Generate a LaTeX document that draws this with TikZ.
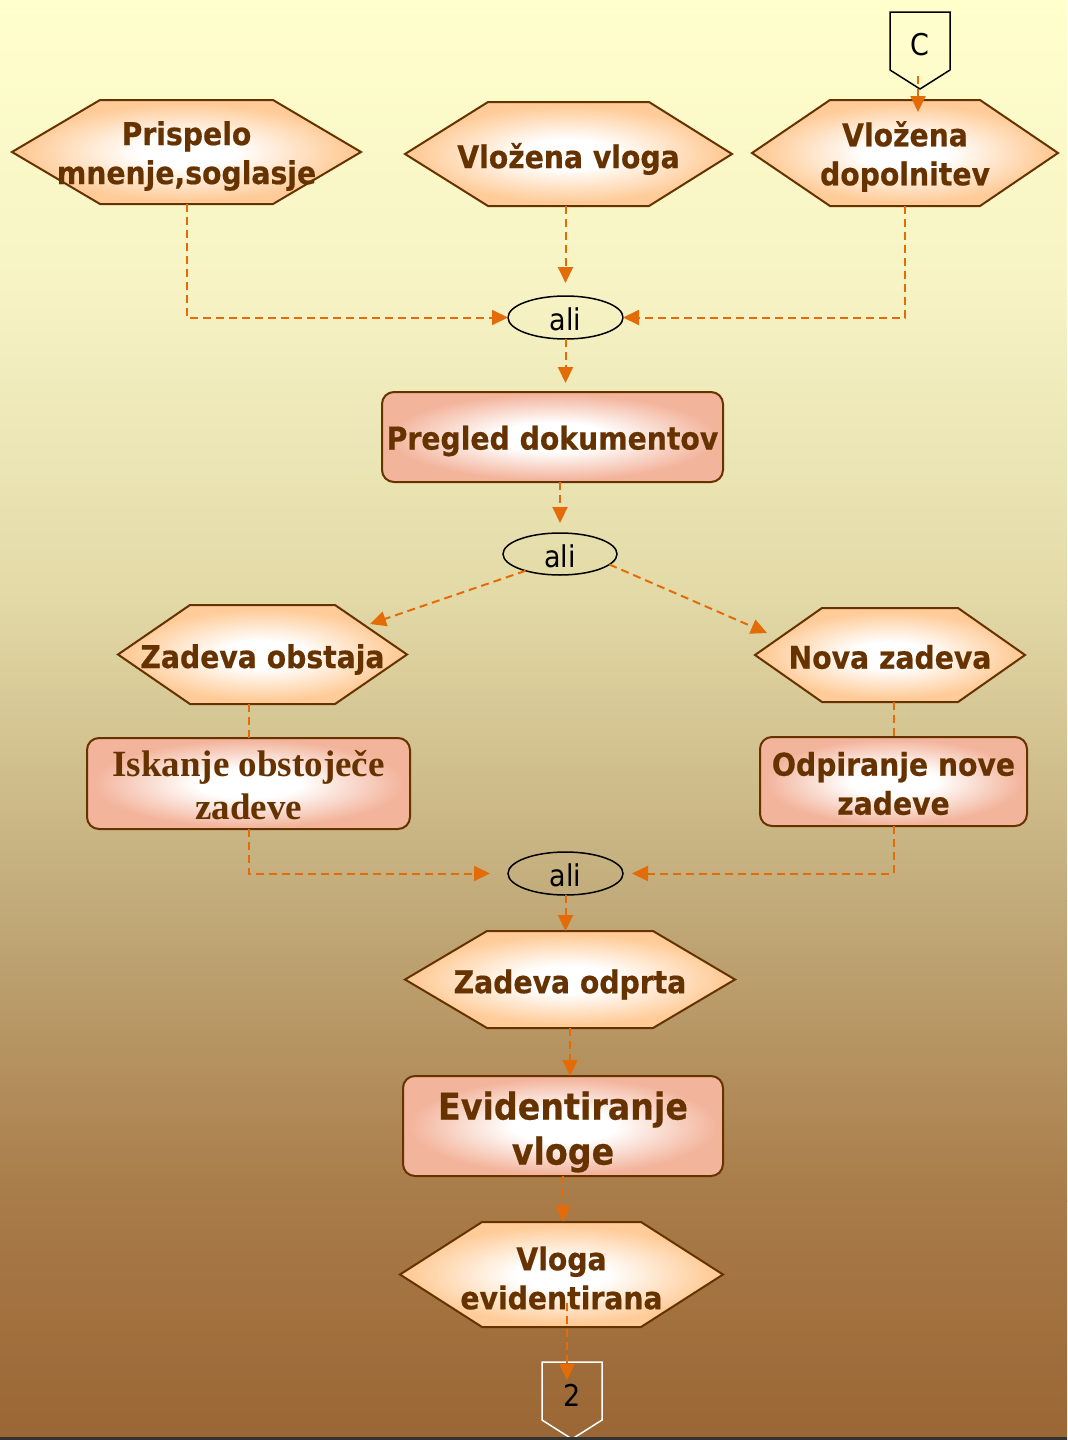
\documentclass[tikz,border=0pt]{standalone}
\usepackage{fontspec}
\usetikzlibrary{arrows.meta,calc,shapes.geometric}
\setmainfont{DejaVu Sans}
\newfontfamily\boxfont{DejaVu Sans}[FakeStretch=0.9, BoldFeatures={FakeBold=0.5}]
\newfontfamily\boxserif{Liberation Serif}

\definecolor{ink}{HTML}{663300}
\definecolor{arroworange}{HTML}{E36C09}
\definecolor{peach}{HTML}{FFCC99}
\definecolor{salmon}{HTML}{F3B49C}
\definecolor{bgA}{HTML}{FFFFCC}
\definecolor{bgB}{HTML}{F6F2C4}
\definecolor{bgC}{HTML}{E2D9A6}
\definecolor{bgD}{HTML}{C2AB7A}
\definecolor{bgE}{HTML}{A87B48}
\definecolor{bgF}{HTML}{9A6634}

% radial glows: the path's bounding box spans 25bp from the centre
\pgfdeclareradialshading{peachglow}{\pgfpoint{0bp}{0bp}}{%
  color(0bp)=(white);color(7bp)=(white);color(23bp)=(peach);color(50bp)=(peach)}
\pgfdeclareradialshading{salmonglow}{\pgfpoint{0bp}{0bp}}{%
  color(0bp)=(white);color(8bp)=(white);color(24bp)=(salmon);color(50bp)=(salmon)}

\pgfdeclarelayer{paper}
\pgfsetlayers{paper,main}

\tikzset{
  frame/.style={shape=rectangle, inner sep=0pt, outer sep=0pt},
  boxtext/.style={shape=rectangle, inner sep=0pt, outer sep=0pt, text=ink, align=center,
    font=\boxfont\bfseries\fontsize{15.7}{19.5}\selectfont},
  hexbody/.style={shade, shading=peachglow, draw=ink, line width=1pt, line join=miter},
  taskbody/.style={frame, draw=ink, line width=1pt, rounded corners=6pt,
    shade, shading=salmonglow},
  orbox/.style={ellipse, draw=black, line width=0.75pt, inner sep=0pt, outer sep=0pt,
    minimum width=57.5pt, minimum height=21.5pt},
  plaintext/.style={inner sep=0pt, outer sep=0pt, text=black,
    font=\boxfont\fontsize{15}{18}\selectfont},
  flowline/.style={draw=arroworange, line width=1pt, dash pattern=on 4pt off 2.5pt},
  flowarrow/.style={flowline, -{Triangle[length=8pt,width=7.5pt]}},
}

% hexagonal event: [text options] name, centre x, centre y, width, height, tip inset; text follows
\newcommand\hexnode[7][yshift=-2.5pt]{%
  \node[frame, minimum width=#5*0.5pt, minimum height=#6*0.5pt] (#2) at (#3,#4) {};
  \path[hexbody] (#2.west) -- ([xshift=#7*0.5pt]#2.north west)
    -- ([xshift=-#7*0.5pt]#2.north east) -- (#2.east)
    -- ([xshift=-#7*0.5pt]#2.south east) -- ([xshift=#7*0.5pt]#2.south west) -- cycle;
  \node[boxtext, #1] (#2-text) at (#2.center)}

% rounded task box: [text options] name, centre x, centre y, width, height; text follows
\newcommand\tasknode[6][yshift=-2pt]{%
  \node[taskbody, minimum width=#5*0.5pt, minimum height=#6*0.5pt] (#2) at (#3,#4) {};
  \node[boxtext, #1] (#2-text) at (#2.center)}

% off-page connector: name, centre x, centre y, outline colour, label
\newcommand\pagelink[5]{%
  \node[frame, minimum width=30pt, minimum height=29pt] (#1) at (#2,#3) {};
  \draw[#4, line width=0.75pt] (#1.north west) -- (#1.north east)
    -- (#1.south east) -- ($(#1.south)+(0,19)$) -- (#1.south west) -- cycle;
  \node[plaintext] (#1-text) at ([yshift=-2pt]#1.center) {#5};}

\begin{document}
\begin{tikzpicture}[x=0.5pt, y=-0.5pt]
\useasboundingbox (0,0) rectangle (1067,1440);
\begin{pgfonlayer}{paper}
  \shade[top color=bgA, bottom color=bgB] (0,0) rectangle (1067,301);
  \shade[top color=bgB, bottom color=bgC] (0,300) rectangle (1067,601);
  \shade[top color=bgC, bottom color=bgD] (0,600) rectangle (1067,901);
  \shade[top color=bgD, bottom color=bgE] (0,900) rectangle (1067,1201);
  \shade[top color=bgE, bottom color=bgF] (0,1200) rectangle (1067,1440);
\end{pgfonlayer}

\pagelink{linkC}{920}{41}{black}{C}

% incoming documents
\hexnode[yshift=-2pt]{prisp}{186.5}{152}{349}{104}{88}{Prispelo\\mnenje,soglasje};
\hexnode{vvloga}{568.5}{154}{327}{104}{83}{Vložena vloga};
\hexnode[yshift=-1.75pt]{vdop}{905}{153}{306}{106}{78}{Vložena\\dopolnitev};

\node[orbox] (or1) at (565.5,317.5) {};
\node[plaintext] (or1-text) at ([yshift=-1pt]or1.center) {ali};
\tasknode{pregled}{552.5}{437}{341}{90}{Pregled dokumentov};
\node[orbox, minimum width=57pt, minimum height=21pt] (or2) at (560,554) {};
\node[plaintext] (or2-text) at ([yshift=-1pt]or2.center) {ali};

% branches
\hexnode{zob}{262.5}{654.5}{289}{99}{72}{Zadeva obstaja};
\hexnode[yshift=-1pt]{nova}{890}{655}{270}{94}{67}{Nova zadeva};
\tasknode[yshift=-1pt, font=\boxserif\bfseries\fontsize{18.5}{21.5}\selectfont]{iskanje}{248.5}{783.5}{323}{91}{Iskanje obstoječe\\zadeve};
\tasknode[yshift=-1pt]{odpir}{893.5}{781.5}{267}{89}{Odpiranje nove\\zadeve};

\node[orbox] (or3) at (565.5,873.5) {};
\node[plaintext] (or3-text) at ([yshift=-1pt]or3.center) {ali};
\hexnode{zodp}{570}{979.5}{330}{97}{82}{Zadeva odprta};
\tasknode[yshift=-3pt, font=\boxfont\bfseries\fontsize{18.5}{22.5}\selectfont]{evid}{563}{1126}{320}{100}{Evidentiranje\\vloge};
\hexnode[yshift=-1.75pt]{vlev}{561.5}{1274.5}{323}{105}{82}{Vloga\\evidentirana};

\pagelink{link2}{572}{1391}{white}{2}

% connectors
\draw[flowarrow] ($(linkC.south)+(-2,6)$) -- ($(vdop.north)+(13,12)$);
\draw[flowarrow, shorten >=6.5pt] (or1.north |- vvloga.south) -- (or1.north);
\draw[flowarrow] (prisp.south) |- (or1.west);
\draw[flowarrow] (vdop.south) |- (or1.east);
\draw[flowarrow, shorten >=4.5pt] (or1.south) -- (or1.south |- pregled.north);
\draw[flowarrow, shorten >=5pt] (or2.north |- pregled.south) -- (or2.north);
\draw[flowarrow] (or2.206) -- ($(zob.north east)+(-37,19)$);
\draw[flowarrow] (or2.348) -- ($(nova.north west)+(12,25)$);
\draw[flowline] (iskanje.north |- zob.south) -- (iskanje.north);
\draw[flowline] (odpir.north |- nova.south) -- (odpir.north);
\draw[flowarrow, shorten >=9pt] (iskanje.south) |- (or3.west);
\draw[flowarrow, shorten >=4.5pt] (odpir.south) |- (or3.east);
\draw[flowarrow] (or3.south) -- (or3.south |- zodp.north);
\draw[flowarrow] (zodp.south) -- (zodp.south |- evid.north);
\draw[flowarrow] (evid.south) -- (evid.south |- vlev.north);
\draw[flowarrow] ($(vlev.center)+(5.5,28)$) -- ($(link2.north)+(-5,18)$);

% page edge
\draw[black!80, line width=1.2pt] (0,1438.5) -- (1067,1438.5);
\end{tikzpicture}
\end{document}
